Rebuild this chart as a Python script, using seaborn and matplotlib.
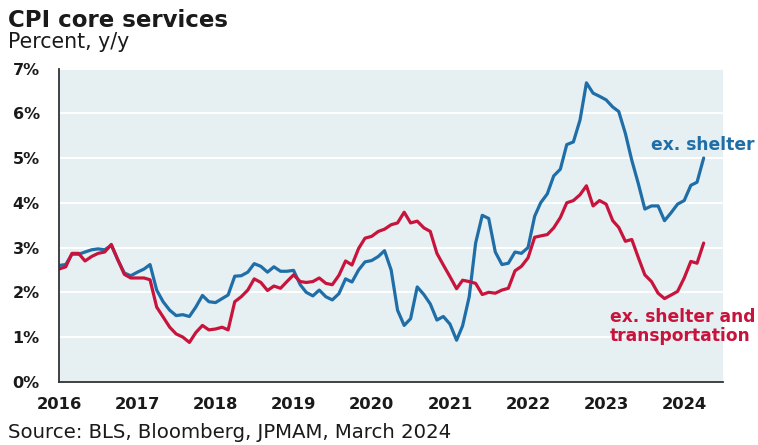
import numpy as np
import pandas as pd
import matplotlib
matplotlib.use("Agg")
import matplotlib.pyplot as plt
import seaborn as sns

# ---- data (monthly, Jan 2016 - Apr 2024), percent y/y ----
start_month = "2016-01-01"
ex_shelter = [
    2.60, 2.62, 2.85, 2.85, 2.90, 2.95, 2.97, 2.95, 3.05, 2.73, 2.43, 2.37,
    2.45, 2.52, 2.62, 2.05, 1.79, 1.60, 1.48, 1.50, 1.46, 1.67, 1.93, 1.79,
    1.77, 1.86, 1.94, 2.36, 2.37, 2.45, 2.64, 2.58, 2.45, 2.57, 2.47, 2.47,
    2.49, 2.17, 2.00, 1.92, 2.05, 1.90, 1.83, 1.97, 2.30, 2.23, 2.50, 2.68,
    2.71, 2.80, 2.93, 2.50, 1.60, 1.26, 1.41, 2.12, 1.95, 1.74, 1.38, 1.46,
    1.29, 0.93, 1.25, 1.90, 3.10, 3.72, 3.65, 2.90, 2.62, 2.65, 2.90, 2.87,
    3.00, 3.70, 4.00, 4.20, 4.60, 4.75, 5.30, 5.36, 5.85, 6.68, 6.45, 6.38,
    6.30, 6.14, 6.04, 5.55, 4.95, 4.42, 3.86, 3.93, 3.93, 3.60, 3.78, 3.97,
    4.05, 4.39, 4.46, 5.00,
]
ex_shelter_transport = [
    2.52, 2.57, 2.87, 2.87, 2.70, 2.80, 2.87, 2.90, 3.07, 2.73, 2.40, 2.32,
    2.32, 2.32, 2.28, 1.67, 1.45, 1.22, 1.07, 1.00, 0.88, 1.10, 1.26, 1.16,
    1.18, 1.22, 1.16, 1.79, 1.90, 2.05, 2.30, 2.22, 2.04, 2.14, 2.09, 2.24,
    2.39, 2.24, 2.22, 2.24, 2.32, 2.20, 2.17, 2.38, 2.70, 2.61, 2.98, 3.21,
    3.25, 3.36, 3.41, 3.51, 3.55, 3.79, 3.55, 3.59, 3.44, 3.36, 2.87, 2.61,
    2.35, 2.08, 2.27, 2.24, 2.20, 1.95, 2.00, 1.98, 2.05, 2.09, 2.48, 2.58,
    2.77, 3.23, 3.26, 3.29, 3.44, 3.67, 4.00, 4.05, 4.18, 4.38, 3.93, 4.05,
    3.97, 3.60, 3.45, 3.14, 3.18, 2.77, 2.39, 2.24, 1.98, 1.86, 1.94, 2.02,
    2.32, 2.69, 2.65, 3.10,
]
series_names = ["ex. shelter", "ex. shelter and\ntransportation"]
year_ticks = list(range(2016, 2025))
y_ticks = list(range(0, 8))

title = "CPI core services"
subtitle = "Percent, y/y"
source = "Source: BLS, Bloomberg, JPMAM, March 2024"

dates = pd.date_range(start_month, periods=len(ex_shelter), freq="MS")
df = pd.concat([
    pd.DataFrame({"date": dates, "value": ex_shelter, "series": series_names[0]}),
    pd.DataFrame({"date": dates, "value": ex_shelter_transport, "series": series_names[1]}),
])

BLUE = "#1f6ea8"
RED = "#c8143c"
BG = "#e6eff2"
TXT = "#1a1a1a"

sns.set_theme(style="white")
plt.rcParams["font.family"] = ["DejaVu Sans"]

fig = plt.figure(figsize=(7.58, 4.45), dpi=100)
ax = fig.add_axes([0.078, 0.142, 0.876, 0.704])
ax.set_facecolor(BG)

sns.lineplot(data=df, x="date", y="value", hue="series",
             palette={series_names[0]: BLUE, series_names[1]: RED},
             linewidth=2.3, legend=False, ax=ax)

ax.set_ylim(0, 7)
ax.set_xlim(pd.Timestamp("2016-01-01"), pd.Timestamp("2024-07-01"))
ax.set_yticks(y_ticks)
ax.set_yticklabels([f"{v}%" for v in y_ticks], fontsize=11.5, fontweight="bold", color=TXT)
ax.set_xticks([pd.Timestamp(f"{y}-01-01") for y in year_ticks])
ax.set_xticklabels([str(y) for y in year_ticks], fontsize=11.8, fontweight="bold", color=TXT)
ax.set_xlabel("")
ax.set_ylabel("")

for y in y_ticks[1:]:
    ax.axhline(y, color="white", linewidth=1.4, zorder=0.5)

for s in ["top", "right"]:
    ax.spines[s].set_visible(False)
for s in ["left", "bottom"]:
    ax.spines[s].set_color("#333333")
    ax.spines[s].set_linewidth(1.3)
ax.tick_params(axis="both", direction="out", length=5, width=1.3, color="#333333")
ax.tick_params(axis="y", pad=9)
ax.tick_params(axis="x", pad=6)

fig.text(0.011, 0.955, title, fontsize=16.5, fontweight="bold", color=TXT, va="center")
fig.text(0.011, 0.905, subtitle, fontsize=14.8, color=TXT, va="center")
fig.text(0.011, 0.029, source, fontsize=14.2, color=TXT, va="center")

ax.text(pd.Timestamp("2023-08-01"), 5.3, "ex. shelter", color=BLUE, fontsize=12.3,
        fontweight="bold", va="center", ha="left", clip_on=False)
ax.text(pd.Timestamp("2023-01-20"), 1.23, "ex. shelter and\ntransportation", color=RED,
        fontsize=12.3, fontweight="bold", va="center", ha="left",
        linespacing=1.1, clip_on=False)

fig.savefig("out.png", dpi=100)
